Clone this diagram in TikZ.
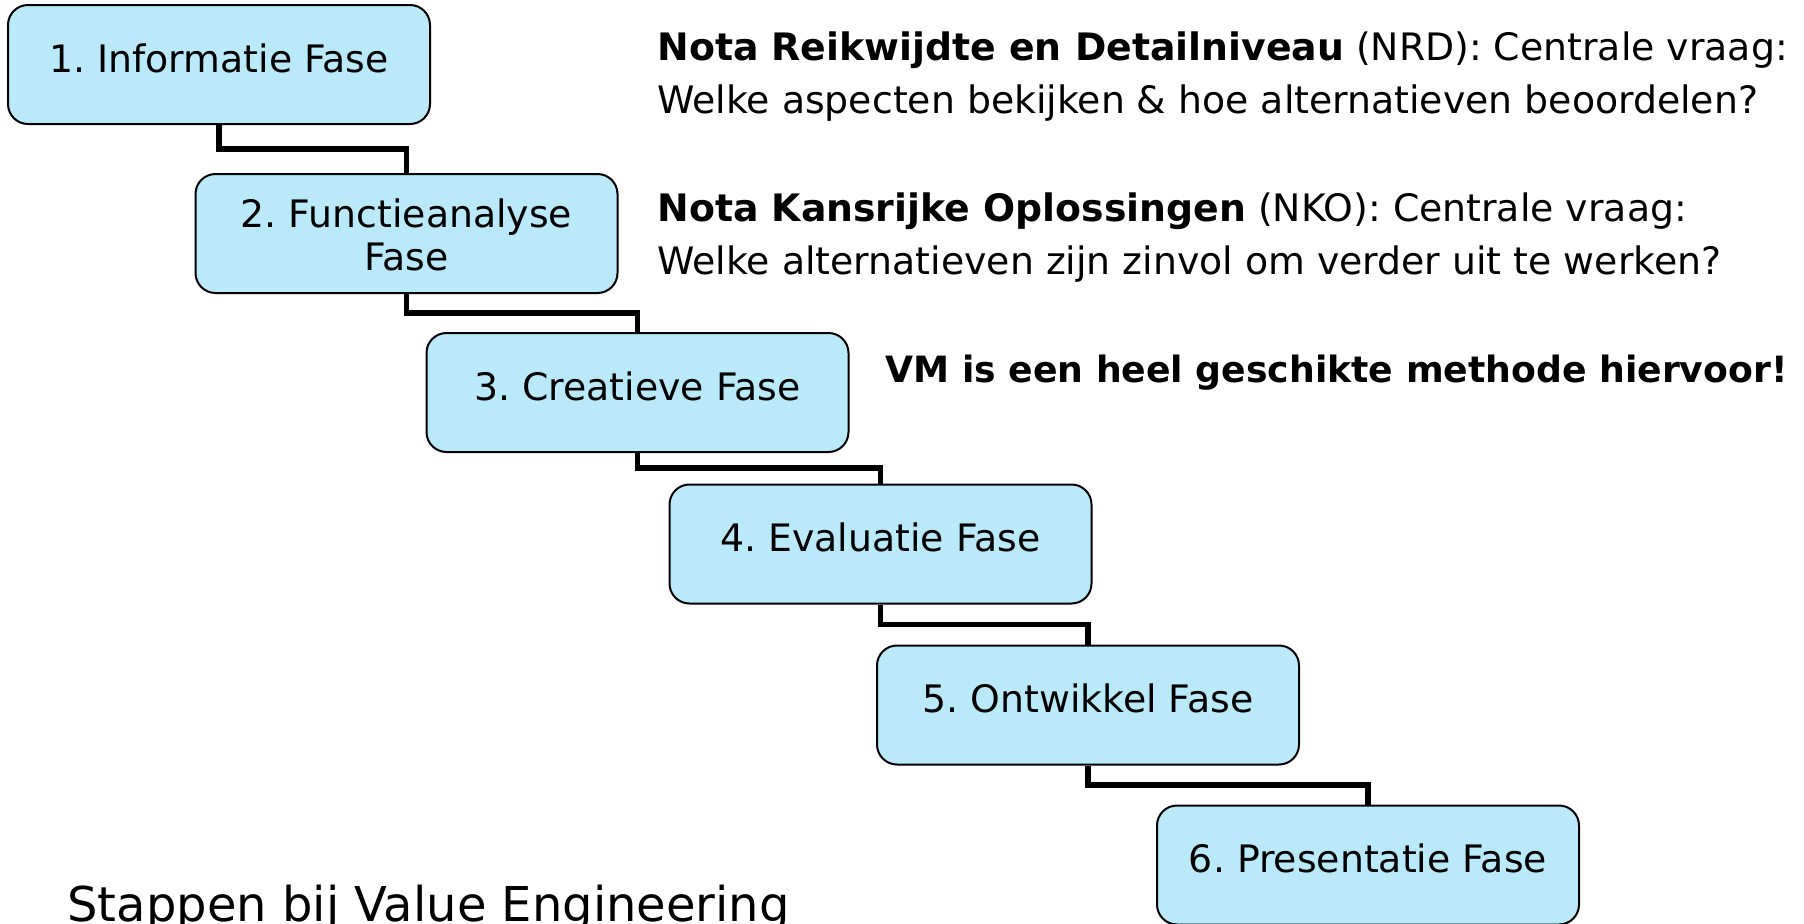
\documentclass[tikz,border=0pt]{standalone}
\usepackage{fontspec}
\setmainfont{DejaVu Sans}
\usetikzlibrary{calc}

\definecolor{phaseblue}{RGB}{186,233,250}

\tikzset{
    phase/.style={draw, fill=phaseblue, rounded corners=10pt, line width=1pt,
        minimum width=211pt, minimum height=59.5pt, inner sep=0pt,
        text height=33.5pt, text depth=26pt, align=center,
        font=\fontsize{18.9}{21.5}\selectfont},
    stair/.style={line width=2.8pt,
        to path={|- ($(\tikztostart)!0.5!(\tikztotarget)$) -| (\tikztotarget)}},
    note/.style={anchor=base west, inner sep=0pt, font=\fontsize{18.9}{21.5}\selectfont}
}

\begin{document}
\frenchspacing
\begin{tikzpicture}[x=0.5pt, y=-0.5pt]
            \clip (0, 0) rectangle (1804, 923);

            % Nodes
            \node[phase] (f1) at (219, 64.5) {1. Informatie Fase};
            \node[phase, text height=48pt, text depth=11.5pt] (f2) at (406.5, 233.5) {2. Functieanalyse\\Fase};
            \node[phase] (f3) at (637.5, 392.5) {3. Creatieve Fase};
            \node[phase] (f4) at (880.5, 544) {4. Evaluatie Fase};
            \node[phase] (f5) at (1088, 705) {5. Ontwikkel Fase};
            \node[phase] (f6) at (1368, 865) {6. Presentatie Fase};

            % Notes
            \node[note] (nrd) at (657, 60) {\textbf{Nota Reikwijdte en Detailniveau} (NRD): Centrale vraag:};
            \node[note] (nrdq) at (657, 113) {Welke aspecten bekijken \& hoe alternatieven beoordelen?};
            \node[note] (nko) at (657, 221) {\textbf{Nota Kansrijke Oplossingen} (NKO): Centrale vraag:};
            \node[note] (nkoq) at (657, 274) {Welke alternatieven zijn zinvol om verder uit te werken?};
            \node[note, font=\fontsize{18.1}{21.5}\selectfont\bfseries] (vm) at (885, 382) {VM is een heel geschikte methode hiervoor!};
            \node[note, font=\fontsize{24}{28}\selectfont] (title) at (67, 921) {Stappen bij Value Engineering};

            % Edges
            \draw[stair] (f1.south) to (f2.north);
            \draw[stair] (f2.south) to (f3.north);
            \draw[stair] (f3.south) to (f4.north);
            \draw[stair] (f4.south) to (f5.north);
            \draw[stair] (f5.south) to (f6.north);
        \end{tikzpicture}
\end{document}
